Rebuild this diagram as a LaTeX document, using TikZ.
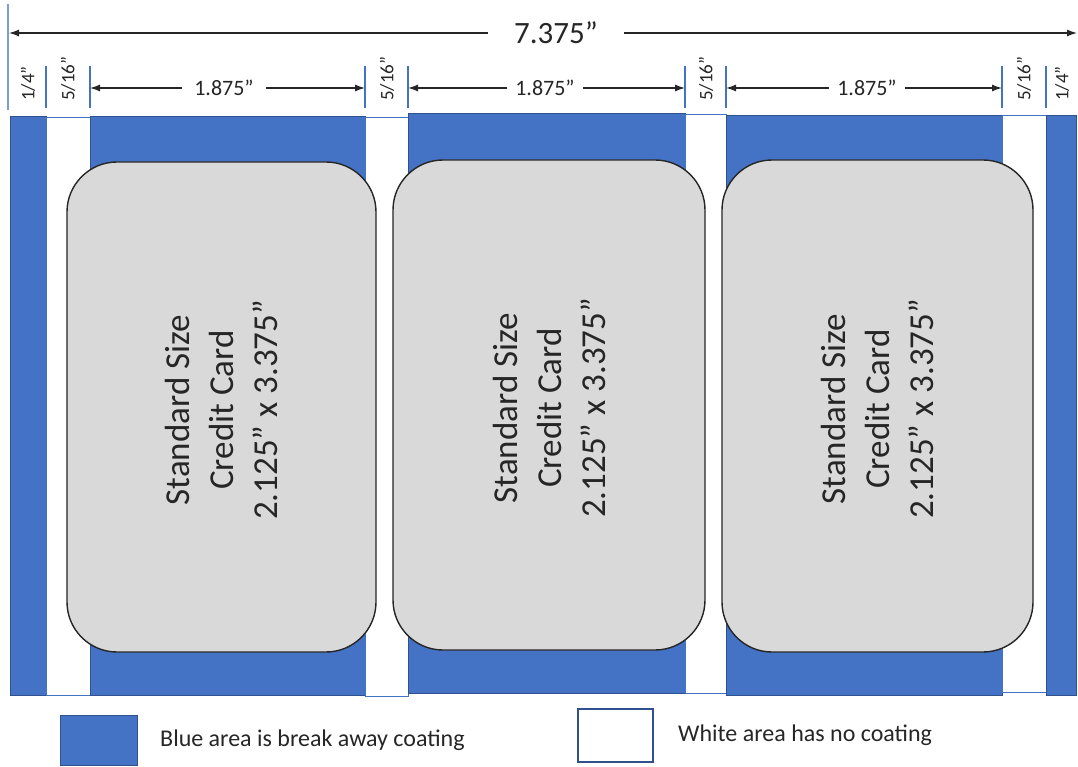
\documentclass[tikz,border=0pt]{standalone}
\usepackage{fontspec}
\setmainfont{Carlito}
\usepackage{tikz}
\usetikzlibrary{arrows.meta,positioning}

\definecolor{coatblue}{HTML}{4472C4}
\definecolor{edgeblue}{HTML}{2F528F}
\definecolor{cardgray}{HTML}{D9D9D9}

\tikzset{
  blueseg/.style={fill=coatblue, draw=edgeblue, line width=0.8pt},
  whiteseg/.style={fill=white, draw=coatblue, line width=0.8pt},
  card/.style={draw=black!85, line width=1.4pt, fill=cardgray, rounded corners=50pt,
    inner sep=0pt},
  cardtext/.style={rotate=90, align=center, text=black!85,
    font=\fontsize{35}{44}\selectfont},
  tickline/.style={draw=coatblue, line width=1.3pt},
  dimarrow/.style={-{Latex[length=10pt,width=7pt]}, line width=1.3pt, black!85},
  dimlabel/.style={text=black!85, inner ysep=0pt},
  gaplabel/.style={rotate=90, anchor=west, inner sep=0pt, text=black!85,
    font=\fontsize{19}{19}\selectfont},
  legendtext/.style={anchor=west, inner sep=0pt, text=black!85,
    font=\fontsize{24}{24}\selectfont},
}

\begin{document}
\begin{tikzpicture}[x=1pt, y=-1pt]
\useasboundingbox (0,0) rectangle (1078,767);

% strip of coating
\draw[blueseg] (10,116) rectangle (46,695);
\draw[whiteseg] (46,117) rectangle (90,695);
\draw[blueseg] (90,116) rectangle (365,695);
\draw[whiteseg] (365,117) rectangle (408,696);
\draw[blueseg] (408,113) rectangle (685,693);
\draw[whiteseg] (685,114) rectangle (726,693);
\draw[blueseg] (726,115) rectangle (1002,695);
\draw[whiteseg] (1002,115) rectangle (1046,692);
\draw[blueseg] (1046,115) rectangle (1076,695);

% cards
\node[card, minimum width=309pt, minimum height=490pt] (card1) at (221.5,407) {};
\node[card, minimum width=312pt, minimum height=490pt] (card2) at (549,405) {};
\node[card, minimum width=311pt, minimum height=492pt] (card3) at (877.5,406) {};
\foreach \c in {1,2,3}
  \node[cardtext] (txt\c) at ([yshift=-3pt]card\c) {Standard Size\\Credit Card\\2.125” x 3.375”};

% boundaries and ticks
\foreach \xx [count=\i from 0] in {10,46,90,365,408,685,726,1002,1046,1076}
  \coordinate (b\i) at (\xx,88);
\foreach \i in {1,...,8}
  \draw[tickline] ([yshift=-20pt]b\i) -- ([yshift=22pt]b\i);
\draw[tickline, line width=1.6pt, coatblue!70] (8,4) -- (8,110);

% overall width
\coordinate (t0) at (9,33);
\coordinate (t1) at (1077,33);
\node[dimlabel, inner xsep=26pt, font=\fontsize{31}{31}\selectfont] (total) at (556,33) {7.375”};
\draw[dimarrow] (total.west) -- (t0);
\draw[dimarrow] (total.east) -- (t1);

% card widths
\node[dimlabel, inner xsep=12pt, font=\fontsize{22}{22}\selectfont] (w1) at (224,88) {1.875”};
\node[dimlabel, inner xsep=8pt, font=\fontsize{22}{22}\selectfont] (w2) at (545,88) {1.875”};
\node[dimlabel, inner xsep=8pt, font=\fontsize{22}{22}\selectfont] (w3) at (867,88) {1.875”};
\draw[dimarrow] (w1.west) -- (b2);
\draw[dimarrow] (w1.east) -- (b3);
\draw[dimarrow] (w2.west) -- (b4);
\draw[dimarrow] (w2.east) -- (b5);
\draw[dimarrow] (w3.west) -- (b6);
\draw[dimarrow] (w3.east) -- (b7);

% gap widths
\node[gaplabel] (g0) at (28,101) {1/4”};
\node[gaplabel] (g1) at (68,101) {5/16”};
\node[gaplabel] (g2) at (387,101) {5/16”};
\node[gaplabel] (g3) at (706,101) {5/16”};
\node[gaplabel] (g4) at (1024,101) {5/16”};
\node[gaplabel] (g5) at (1062,101) {1/4”};

% legend
\draw[blueseg] (60,715) rectangle (137,765);
\node[legendtext] (legblue) at (160,740) {Blue area is break away coating};
\draw[whiteseg, draw=edgeblue, line width=1.4pt] (578,709) rectangle (653,762);
\node[legendtext] (legwhite) at (678,735) {White area has no coating};

\end{tikzpicture}
\end{document}
